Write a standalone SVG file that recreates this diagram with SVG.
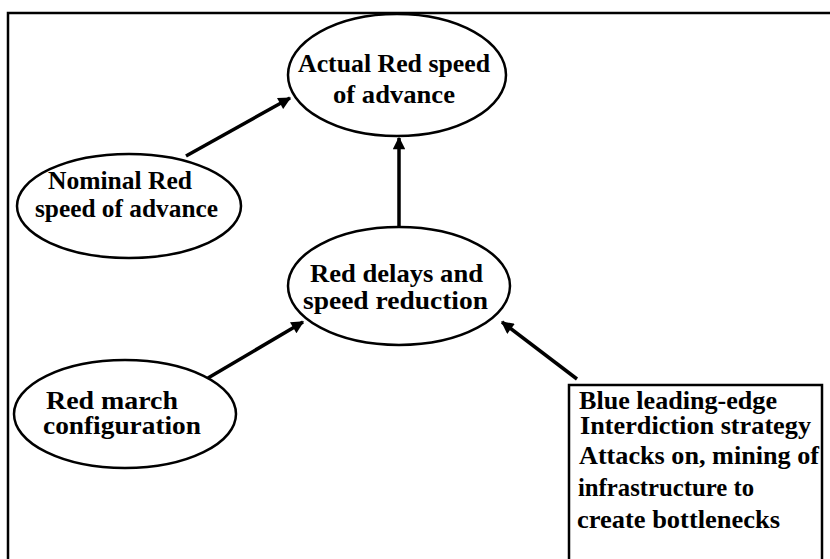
<svg xmlns="http://www.w3.org/2000/svg" width="830" height="559" viewBox="0 0 830 559">
<defs>
<style>
.n{fill:#fff;stroke:#000;stroke-width:2.5}
.t{font-family:"Liberation Serif","Times New Roman",serif;font-weight:bold;font-size:25px;fill:#000}
.c{stroke:#000;stroke-width:3.5;fill:none;marker-end:url(#ah)}
.f{stroke:#000;stroke-width:2.5;fill:none}
</style>
<marker id="ah" viewBox="0 0 10 10" refX="9" refY="5" markerWidth="4.2" markerHeight="3.6" orient="auto" markerUnits="strokeWidth">
<path d="M0,0 L10,5 L0,10 z" fill="#000"/>
</marker>
</defs>
<rect width="830" height="559" fill="#fff"/>
<path class="f" d="M8,559 V13 H830"/>
<g id="connectors">
<line class="c" x1="186" y1="156" x2="290" y2="98"/>
<line class="c" x1="399" y1="228" x2="399" y2="138"/>
<line class="c" x1="208" y1="378" x2="303" y2="322"/>
<line class="c" x1="577" y1="379" x2="502" y2="322"/>
</g>
<g id="actual">
<ellipse class="n" cx="397" cy="75" rx="109" ry="61"/>
<text class="t" x="298" y="72" textLength="192" lengthAdjust="spacingAndGlyphs">Actual Red speed</text>
<text class="t" x="333" y="103" textLength="122" lengthAdjust="spacingAndGlyphs">of advance</text>
</g>
<g id="nominal">
<ellipse class="n" cx="129" cy="206" rx="112" ry="52"/>
<text class="t" x="48" y="189" textLength="144" lengthAdjust="spacingAndGlyphs">Nominal Red</text>
<text class="t" x="35" y="217" textLength="183" lengthAdjust="spacingAndGlyphs">speed of advance</text>
</g>
<g id="delays">
<ellipse class="n" cx="399" cy="286" rx="111" ry="59"/>
<text class="t" x="310" y="282" textLength="173" lengthAdjust="spacingAndGlyphs">Red delays and</text>
<text class="t" x="303" y="309" textLength="185" lengthAdjust="spacingAndGlyphs">speed reduction</text>
</g>
<g id="march">
<ellipse class="n" cx="125" cy="414" rx="111" ry="54"/>
<text class="t" x="46" y="409" textLength="132" lengthAdjust="spacingAndGlyphs">Red march</text>
<text class="t" x="43" y="434" textLength="158" lengthAdjust="spacingAndGlyphs">configuration</text>
</g>
<g id="blue">
<path class="f" d="M569,559 V385 H822 V559" stroke-width="3"/>
<text class="t" x="579" y="409" textLength="198" lengthAdjust="spacingAndGlyphs">Blue leading-edge</text>
<text class="t" x="580" y="434" textLength="231" lengthAdjust="spacingAndGlyphs">Interdiction  strategy</text>
<text class="t" x="579" y="464" textLength="240" lengthAdjust="spacingAndGlyphs">Attacks on, mining of</text>
<text class="t" x="578" y="496" textLength="176" lengthAdjust="spacingAndGlyphs">infrastructure to</text>
<text class="t" x="577" y="528" textLength="203" lengthAdjust="spacingAndGlyphs">create  bottlenecks</text>
</g>
</svg>
